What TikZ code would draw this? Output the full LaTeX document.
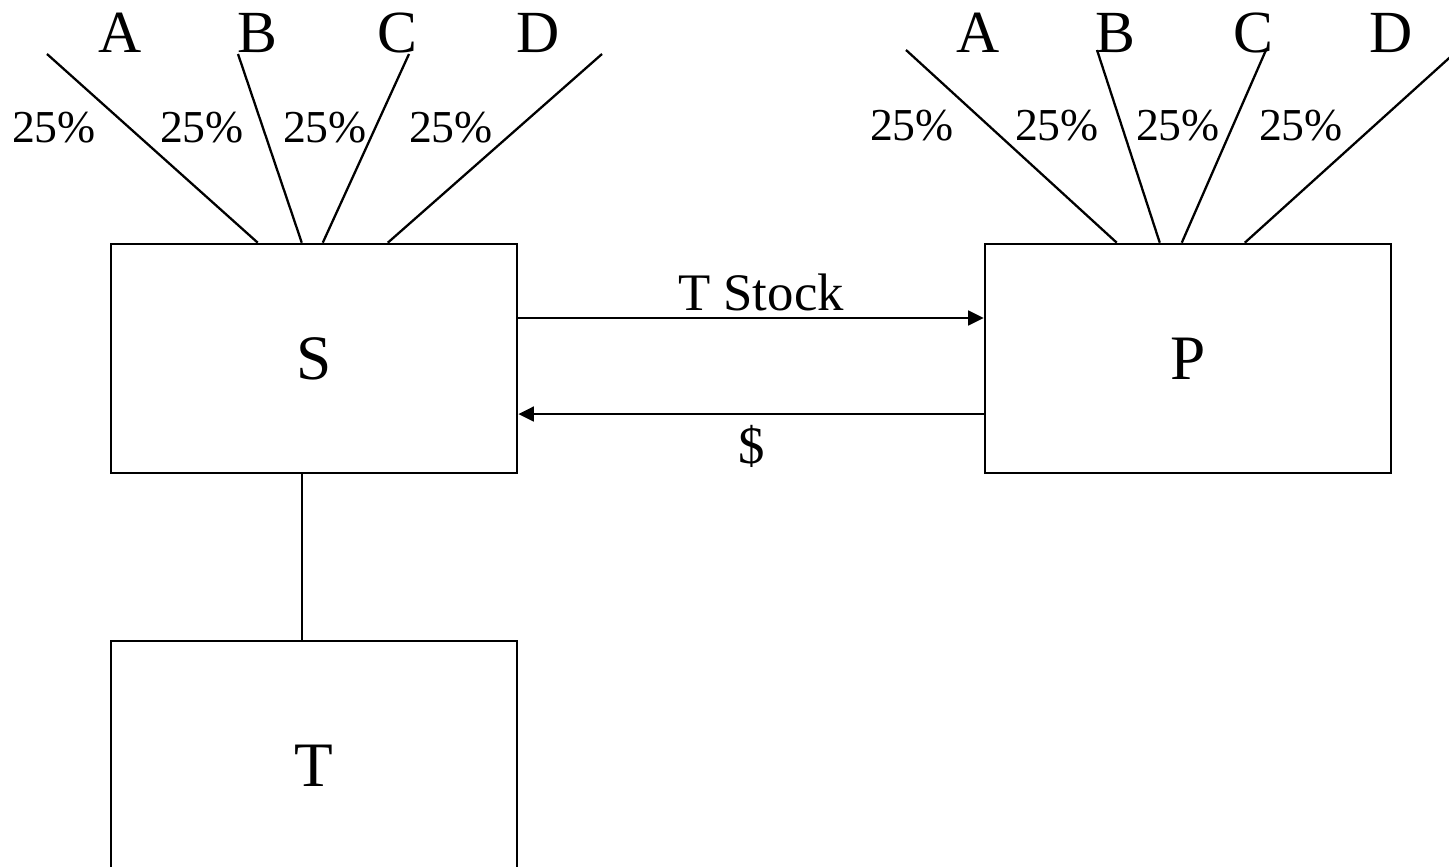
\documentclass[tikz,border=0pt]{standalone}
\usepackage{fontspec}
\setmainfont{Liberation Serif}
\usetikzlibrary{arrows.meta,calc}
\begin{document}
\begin{tikzpicture}[x=0.01cm,y=-0.01cm,line width=0.65pt,
  box/.style={draw,line width=0.7pt,minimum width=4.06cm,minimum height=2.29cm,inner sep=0pt,font=\fontsize{18}{20}\selectfont},
  tallbox/.style={box,minimum height=2.5cm},
  letter/.style={anchor=base,inner sep=0pt,font=\fontsize{17}{20}\selectfont},
  pct/.style={anchor=base,inner sep=0pt,font=\fontsize{13}{15}\selectfont},
  flowlbl/.style={anchor=base,inner sep=0pt,font=\fontsize{15}{18}\selectfont},
  arr/.style={-{Triangle[length=4.4pt,width=4.2pt]}}]
\useasboundingbox (0,0) rectangle (1449,867);
% boxes
\node[box] (S) at (314,358.5) {S};
\node[box] (P) at (1188,358.5) {P};
\node[tallbox] (T) at (314,766) {T};
% fan ends (S)
\coordinate (sA) at (47,54);
\coordinate (sB) at (238,54);
\coordinate (sC) at (409,54);
\coordinate (sD) at (602,54);
\draw ([xshift=1.48cm]S.north west) -- (sA);
\draw ([xshift=1.92cm]S.north west) -- (sB);
\draw ([xshift=2.13cm]S.north west) -- (sC);
\draw ([xshift=2.78cm]S.north west) -- (sD);
\node[letter] (lsA) at (120,53) {A};
\node[letter] (lsB) at (257,53) {B};
\node[letter] (lsC) at (397,53) {C};
\node[letter] (lsD) at (538,53) {D};
\node[pct] (psA) at (54,143) {25\%};
\node[pct] (psB) at (202,143) {25\%};
\node[pct] (psC) at (325,143) {25\%};
\node[pct] (psD) at (451,143) {25\%};
% fan ends (P)
\coordinate (pA) at (906,50);
\coordinate (pB) at (1097,50);
\coordinate (pC) at (1266,50);
\coordinate (pD) at (1458,50);
\draw ([xshift=1.33cm]P.north west) -- (pA);
\draw ([xshift=1.76cm]P.north west) -- (pB);
\draw ([xshift=1.98cm]P.north west) -- (pC);
\draw ([xshift=2.61cm]P.north west) -- (pD);
\node[letter] (lpA) at (978,53) {A};
\node[letter] (lpB) at (1115,53) {B};
\node[letter] (lpC) at (1253,53) {C};
\node[letter] (lpD) at (1391,53) {D};
\node[pct] (ppA) at (912,140) {25\%};
\node[pct] (ppB) at (1057,140) {25\%};
\node[pct] (ppC) at (1178,140) {25\%};
\node[pct] (ppD) at (1301,140) {25\%};
% flows
\draw[arr] ([yshift=0.405cm]S.east) -- ([yshift=0.405cm]P.west);
\draw[arr] ([yshift=-0.555cm]P.west) -- ([yshift=-0.555cm]S.east);
\node[flowlbl] (stock) at (761,310) {T Stock};
\node[flowlbl] (cash) at (752,463) {\$};
% S to T
\draw ([xshift=1.92cm]S.south west) -- ([xshift=1.92cm]T.north west);
\end{tikzpicture}
\end{document}
